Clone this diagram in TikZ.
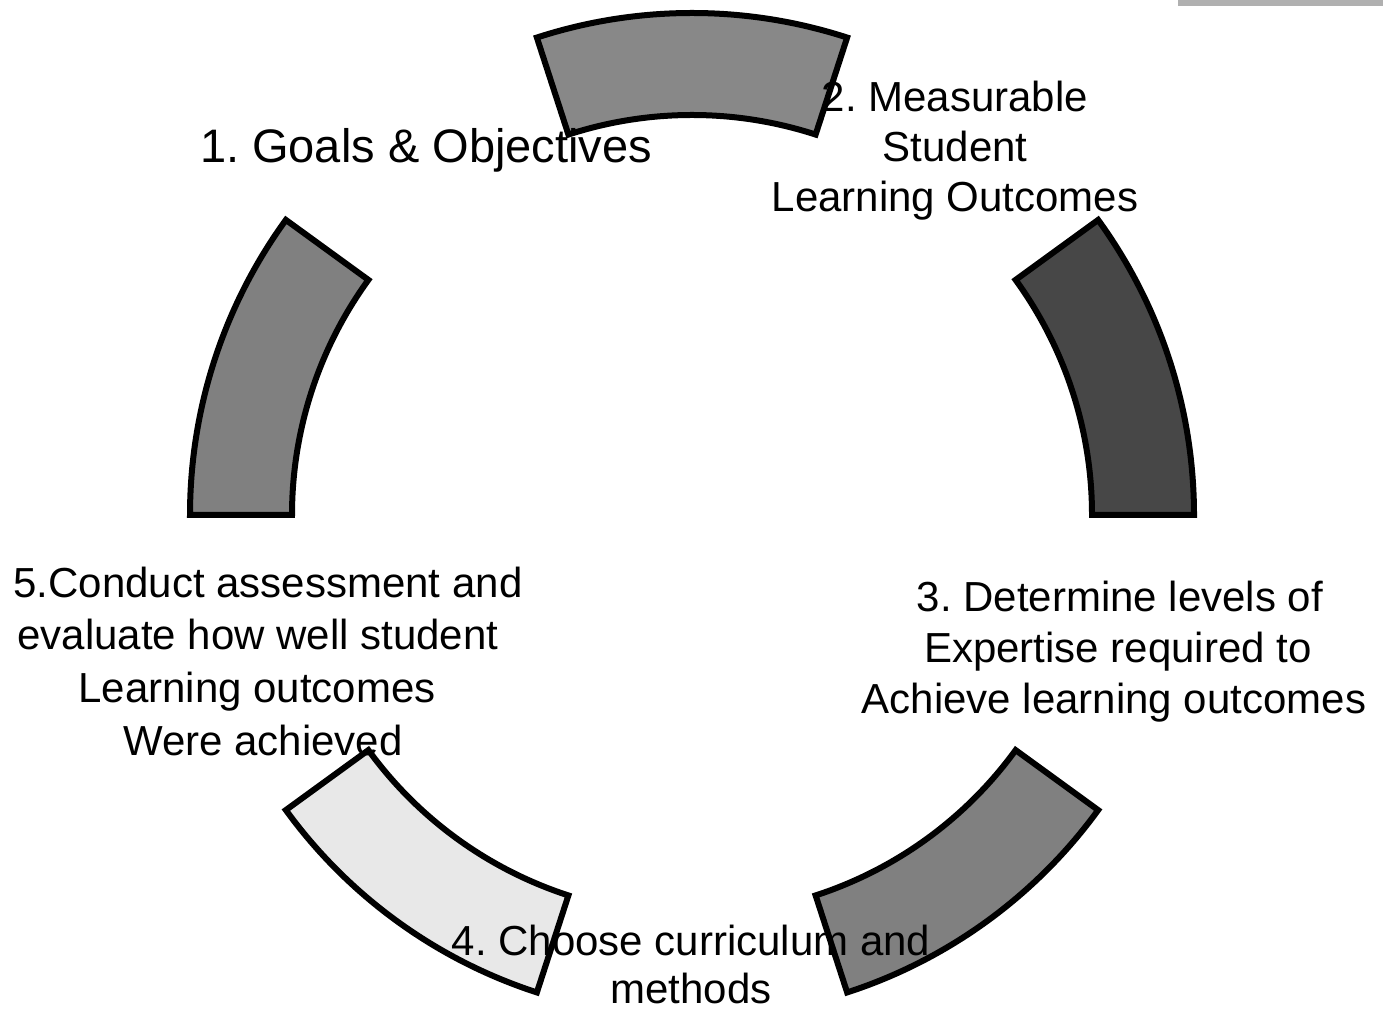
\documentclass[tikz,border=0pt]{standalone}
\usepackage{fontspec}
\setmainfont{Liberation Sans}
\frenchspacing
\definecolor{segTop}{HTML}{888888}
\definecolor{segRight}{HTML}{474747}
\definecolor{segLR}{HTML}{808080}
\definecolor{segLL}{HTML}{E8E8E8}
\definecolor{segLeft}{HTML}{808080}
\definecolor{barGray}{HTML}{B0B0B0}
\tikzset{
  seg/.style={draw=black, line width=6pt, line join=miter},
  lbl/.style={font=\fontsize{42}{51}\selectfont, inner sep=0pt, anchor=base, text=black},
  biglbl/.style={font=\fontsize{47}{56}\selectfont, inner sep=0pt, anchor=base, text=black}
}
\newcommand\annseg[3]{% start angle, end angle, colour
  \draw[seg, fill=#3] (#1:502pt) arc[start angle=#1, end angle=#2, radius=502pt]
    -- (#2:400pt) arc[start angle=#2, end angle=#1, radius=400pt] -- cycle;}
\begin{document}
\begin{tikzpicture}[x=1pt, y=1pt]
\useasboundingbox (0,0) rectangle (1383,1010);
\fill[barGray] (1178,1004) rectangle (1383,1010);
\begin{scope}[shift={(692,495)}]
  \annseg{72}{108}{segTop}
  \annseg{0}{36}{segRight}
  \annseg{-72}{-36}{segLR}
  \annseg{-144}{-108}{segLL}
  \annseg{144}{180}{segLeft}
\end{scope}
% 1
\node[biglbl] (t1) at (426,847) {1. Goals \& Objectives};
% 2
\node[lbl] (t2a) at (955,898) {2. Measurable};
\node[lbl] (t2b) at (955,848) {Student};
\node[lbl] (t2c) at (955,798) {Learning Outcomes};
% 3
\node[lbl] (t3a) at (1120,398) {3. Determine levels of};
\node[lbl] (t3b) at (1118,348) {Expertise required to};
\node[lbl] (t3c) at (1114,297) {Achieve learning outcomes};
% 4
\node[lbl] (t4a) at (691,55) {4. Choose curriculum and};
\node[lbl] (t4b) at (691,7) {methods};
% 5
\node[lbl] (t5a) at (268,412) {5.Conduct assessment and};
\node[lbl] (t5b) at (258,360) {evaluate how well student};
\node[lbl] (t5c) at (257,308) {Learning outcomes};
\node[lbl] (t5d) at (263,255) {Were achieved};
\end{tikzpicture}
\end{document}
